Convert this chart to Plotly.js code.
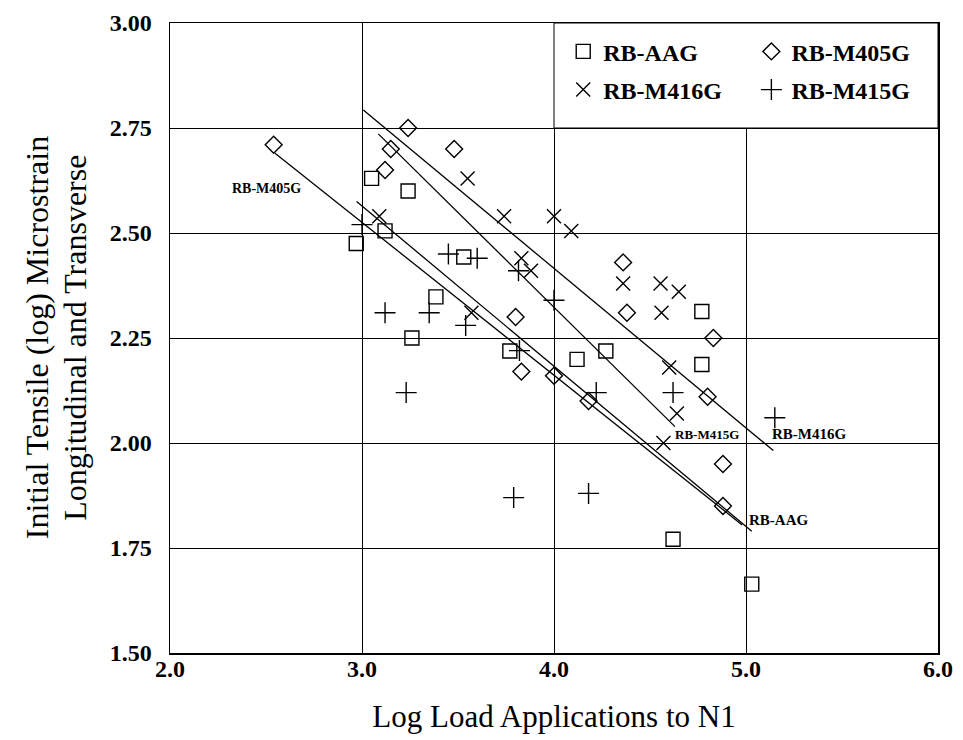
<!DOCTYPE html>
<html>
<head>
<meta charset="utf-8">
<script src="https://cdn.plot.ly/plotly-3.0.1.min.js"></script>
<style>html,body{margin:0;padding:0;background:#fff;}#chart{width:963px;height:740px;}</style>
</head>
<body>
<div id="chart"></div>
<script>
// Data
const seriesNames = ['RB-AAG', 'RB-M405G', 'RB-M416G', 'RB-M415G'];

const xAAG = [2.97, 3.05, 3.12, 3.24, 3.26, 3.385, 3.53, 3.77, 4.12, 4.27, 4.62, 4.77, 4.77, 5.03];
const yAAG = [2.475, 2.63, 2.505, 2.60, 2.25, 2.348, 2.443, 2.219, 2.199, 2.219, 1.771, 2.313, 2.187, 1.664];

const xM405 = [2.54, 3.12, 3.15, 3.24, 3.48, 3.80, 3.83, 4.00, 4.18, 4.36, 4.38, 4.80, 4.83, 4.88, 4.88];
const yM405 = [2.71, 2.65, 2.70, 2.75, 2.70, 2.30, 2.17, 2.16, 2.10, 2.43, 2.31, 2.11, 2.25, 1.95, 1.85];

const xM416 = [3.09, 3.55, 3.57, 3.74, 3.83, 3.88, 4.00, 4.09, 4.36, 4.555, 4.56, 4.60, 4.65, 4.64, 4.57];
const yM416 = [2.54, 2.63, 2.31, 2.54, 2.44, 2.41, 2.54, 2.505, 2.38, 2.38, 2.31, 2.18, 2.36, 2.07, 2.00];

const xM415 = [3.00, 3.12, 3.23, 3.35, 3.45, 3.54, 3.60, 3.79, 3.815, 3.82, 4.00, 4.18, 4.22, 4.62, 5.15];
const yM415 = [2.52, 2.31, 2.12, 2.31, 2.45, 2.28, 2.44, 1.87, 2.41, 2.22, 2.34, 1.88, 2.12, 2.12, 2.06];

// Regression line end points
const fitAAGx = [2.972, 5.03];   const fitAAGy = [2.575, 1.79];
const fitM405x = [2.547, 4.98];  const fitM405y = [2.69, 1.805];
const fitM416x = [3.007, 5.142]; const fitM416y = [2.793, 1.982];
const fitM415x = [3.085, 4.63];  const fitM415y = [2.736, 2.039];

const yTicks = [1.50, 1.75, 2.00, 2.25, 2.50, 2.75, 3.00];
const xTicks = [2.0, 3.0, 4.0, 5.0, 6.0];

const xTitle = 'Log Load Applications to N1';
const yTitleLines = ['Initial Tensile (log) Microstrain', 'Longitudinal and Transverse'];

const FONT = 'Liberation Serif, Times New Roman, serif';
const lineStyle = {color: '#000', width: 1.3};

function pts(x, y, name, symbol, size, legend) {
  return {x: x, y: y, type: 'scatter', mode: 'markers', name: name,
    legend: legend, legendgroup: name,
    marker: {symbol: symbol, size: size, color: '#000', line: {color: '#000', width: 1.4}}};
}
function fit(x, y) {
  return {x: x, y: y, type: 'scatter', mode: 'lines', showlegend: false, hoverinfo: 'skip', line: lineStyle};
}

const traces = [
  fit(fitAAGx, fitAAGy), fit(fitM405x, fitM405y), fit(fitM416x, fitM416y), fit(fitM415x, fitM415y),
  pts(xAAG, yAAG, seriesNames[0], 'square-open', 14, 'legend'),
  pts(xM416, yM416, seriesNames[2], 'x-thin-open', 14, 'legend'),
  pts(xM405, yM405, seriesNames[1], 'diamond-open', 13, 'legend2'),
  pts(xM415, yM415, seriesNames[3], 'cross-thin-open', 15, 'legend2')
];

const legendCommon = {
  bgcolor: 'rgba(0,0,0,0)', borderwidth: 0, orientation: 'v',
  xanchor: 'left', yanchor: 'top', tracegroupgap: 4,
  font: {family: FONT, size: 24, color: '#000', weight: 'bold'}
};

const titleFont = {family: FONT, size: 32, color: '#000'};

const layout = {
  width: 963, height: 740,
  margin: {l: 170, r: 25, t: 23, b: 87},
  paper_bgcolor: '#fff', plot_bgcolor: '#fff',
  font: {family: FONT, color: '#000'},
  showlegend: true,
  legend: Object.assign({x: 0.512, y: 0.99}, legendCommon),
  legend2: Object.assign({x: 0.757, y: 0.99}, legendCommon),
  xaxis: {
    range: [2, 6], tickvals: xTicks, tickformat: '.1f',
    showgrid: true, gridcolor: '#000', gridwidth: 1,
    showline: true, mirror: true, linecolor: '#000', linewidth: 1.5,
    ticks: '', zeroline: false, ticklabelstandoff: -6,
    tickfont: {family: FONT, size: 24, color: '#000', weight: 'bold'},
    title: {text: xTitle, font: {family: FONT, size: 31, color: '#000'}, standoff: 24}
  },
  yaxis: {
    range: [1.5, 3.0], tickvals: yTicks, tickformat: '.2f',
    showgrid: true, gridcolor: '#000', gridwidth: 1,
    showline: true, mirror: true, linecolor: '#000', linewidth: 1.5,
    ticks: '', zeroline: false, ticklabelstandoff: 12,
    tickfont: {family: FONT, size: 24, color: '#000', weight: 'bold'}
  },
  shapes: [{
    type: 'rect', xref: 'x', yref: 'y', x0: 4, x1: 6, y0: 2.75, y1: 3.0,
    fillcolor: '#fff', line: {color: '#000', width: 1}, layer: 'between'
  }],
  annotations: [
    {xref: 'paper', yref: 'paper', x: -0.173, y: 0.5, xanchor: 'center', yanchor: 'middle',
      textangle: -90, text: yTitleLines[0], showarrow: false, font: titleFont},
    {xref: 'paper', yref: 'paper', x: -0.124, y: 0.5, xanchor: 'center', yanchor: 'middle',
      textangle: -90, text: yTitleLines[1], showarrow: false, font: titleFont},
    {x: 2.504, y: 2.605, text: 'RB-M405G', showarrow: false, font: {family: FONT, size: 14, weight: 'bold', color: '#000'}},
    {x: 4.797, y: 2.021, text: 'RB-M415G', showarrow: false, font: {family: FONT, size: 13, weight: 'bold', color: '#000'}},
    {x: 5.328, y: 2.021, text: 'RB-M416G', showarrow: false, font: {family: FONT, size: 15, weight: 'bold', color: '#000'}},
    {x: 5.167, y: 1.817, text: 'RB-AAG', showarrow: false, font: {family: FONT, size: 15, weight: 'bold', color: '#000'}}
  ]
};

Plotly.newPlot('chart', traces, layout, {displayModeBar: false, staticPlot: true});
</script>
</body>
</html>
